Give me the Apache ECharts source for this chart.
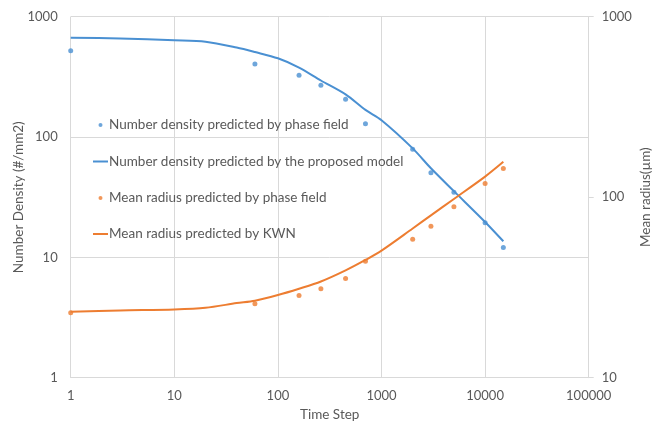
<!DOCTYPE html>
<html>
<head>
<meta charset="utf-8">
<script src="https://cdn.jsdelivr.net/npm/echarts@6/dist/echarts.min.js"></script>
<style>
  html, body { margin: 0; padding: 0; background: #fff; }
  #chart { width: 656px; height: 422px; }
</style>
</head>
<body>
<div id="chart"></div>
<script>
// Time steps where the phase-field simulation was sampled
const pfSteps = [1, 60, 160, 260, 450, 700, 2000, 3000, 5000, 10000, 15000];
// Number density (#/mm2) from the phase-field runs
const pfDensity = [522, 404, 326, 270, 206, 129, 79, 50.5, 34.7, 19.4, 12.1];
// Mean radius (µm) from the phase-field runs
const pfRadius = [22.9, 25.7, 28.5, 31.1, 35.5, 44.2, 58.5, 69, 88.5, 119, 144];

// Time steps of the model curves
const modelSteps = [1, 3, 10, 20, 40, 60, 100, 160, 260, 450, 700, 1000, 2000, 3000, 5000, 10000, 15000];
// Number density from the proposed model
const modelDensity = [669, 659, 637, 620, 555, 509, 451, 378, 295, 226, 168, 138, 80.5, 55, 35.5, 19.7, 13.6];
// Mean radius from KWN
const kwnRadius = [23.2, 23.6, 23.9, 24.4, 25.9, 26.7, 28.7, 31.1, 34.1, 39.3, 44.9, 50.6, 67.1, 79.3, 97.8, 130, 157];

const seriesNames = [
  'Number density predicted by phase field',
  'Number density predicted by the proposed model',
  'Mean radius predicted by phase field',
  'Mean radius predicted by KWN'
];

const BLUE = '#4A90D2';
const ORANGE = '#ED7D31';
const TEXT = '#595959';
const GRID = '#D9D9D9';
const FONT = 'Lato';

const zip = (xs, ys) => xs.map((x, i) => [x, ys[i]]);
const plainNum = v => String(Math.round(v));

// One legend block per entry so each keeps its own marker shape and row
function legendItem(name, top, isLine) {
  return {
    left: isLine ? 93 : 98.5,
    top: top,
    orient: 'vertical',
    data: [{ name: name, icon: isLine ? 'rect' : 'circle' }],
    itemWidth: 15,
    itemHeight: isLine ? 2 : 4,
    itemGap: 0,
    padding: 0,
    selectedMode: false,
    textStyle: { color: TEXT, fontFamily: FONT, fontSize: 13.5, padding: [0, 0, 0, -4] }
  };
}

const chart = echarts.init(document.getElementById('chart'), null, { renderer: 'canvas' });
chart.setOption({
  animation: false,
  backgroundColor: '#fff',
  textStyle: { fontFamily: FONT },
  grid: {
    left: 70.7, right: 67.3, top: 16.7, bottom: 44.3,
    containLabel: false,
    outerBoundsMode: 'none'
  },
  legend: [
    legendItem(seriesNames[0], 118, false),
    legendItem(seriesNames[1], 154.5, true),
    legendItem(seriesNames[2], 191, false),
    legendItem(seriesNames[3], 227, true)
  ],
  xAxis: {
    type: 'log',
    logBase: 10,
    min: 1,
    max: 100000,
    name: 'Time Step',
    nameLocation: 'middle',
    nameGap: 30,
    nameMoveOverlap: false,
    nameTextStyle: { color: TEXT, fontSize: 13.5, fontFamily: FONT },
    axisLine: { show: true, lineStyle: { color: GRID, width: 1 } },
    axisTick: { show: false },
    axisLabel: { color: TEXT, fontSize: 13, fontFamily: FONT, margin: 12, formatter: plainNum },
    splitLine: { show: true, lineStyle: { color: GRID, width: 1 } },
    minorTick: { show: false }
  },
  yAxis: [
    {
      type: 'log',
      logBase: 10,
      min: 1,
      max: 1000,
      name: 'Number Density (#/mm2)',
      nameLocation: 'middle',
      nameRotate: 90,
      nameGap: 45,
      nameMoveOverlap: false,
      nameTextStyle: { color: TEXT, fontSize: 13.5, fontFamily: FONT },
      axisLine: { show: false },
      axisTick: { show: false },
      axisLabel: { color: TEXT, fontSize: 13, fontFamily: FONT, margin: 13, formatter: plainNum },
      splitLine: { show: true, lineStyle: { color: GRID, width: 1 } }
    },
    {
      type: 'log',
      logBase: 10,
      min: 10,
      max: 1000,
      position: 'right',
      name: 'Mean radius(\u00b5m)',
      nameLocation: 'middle',
      nameRotate: 90,
      nameGap: 50,
      nameMoveOverlap: false,
      nameTextStyle: { color: TEXT, fontSize: 13.5, fontFamily: FONT },
      axisLine: { show: true, lineStyle: { color: GRID, width: 1 } },
      axisTick: { show: true, length: 5, lineStyle: { color: GRID } },
      axisLabel: { color: TEXT, fontSize: 13, fontFamily: FONT, margin: 13, formatter: plainNum },
      splitLine: { show: false }
    }
  ],
  series: [
    {
      name: seriesNames[0],
      type: 'scatter',
      yAxisIndex: 0,
      symbol: 'circle',
      symbolSize: 5,
      itemStyle: { color: BLUE },
      data: zip(pfSteps, pfDensity),
      z: 3
    },
    {
      name: seriesNames[1],
      type: 'line',
      yAxisIndex: 0,
      showSymbol: false,
      symbol: 'none',
      smooth: 0.3,
      itemStyle: { color: BLUE },
      lineStyle: { color: BLUE, width: 2, join: 'round' },
      data: zip(modelSteps, modelDensity),
      z: 2
    },
    {
      name: seriesNames[2],
      type: 'scatter',
      yAxisIndex: 1,
      symbol: 'circle',
      symbolSize: 5,
      itemStyle: { color: ORANGE },
      data: zip(pfSteps, pfRadius),
      z: 3
    },
    {
      name: seriesNames[3],
      type: 'line',
      yAxisIndex: 1,
      showSymbol: false,
      symbol: 'none',
      smooth: 0.3,
      itemStyle: { color: ORANGE },
      lineStyle: { color: ORANGE, width: 2, join: 'round' },
      data: zip(modelSteps, kwnRadius),
      z: 2
    }
  ]
});
</script>
</body>
</html>
